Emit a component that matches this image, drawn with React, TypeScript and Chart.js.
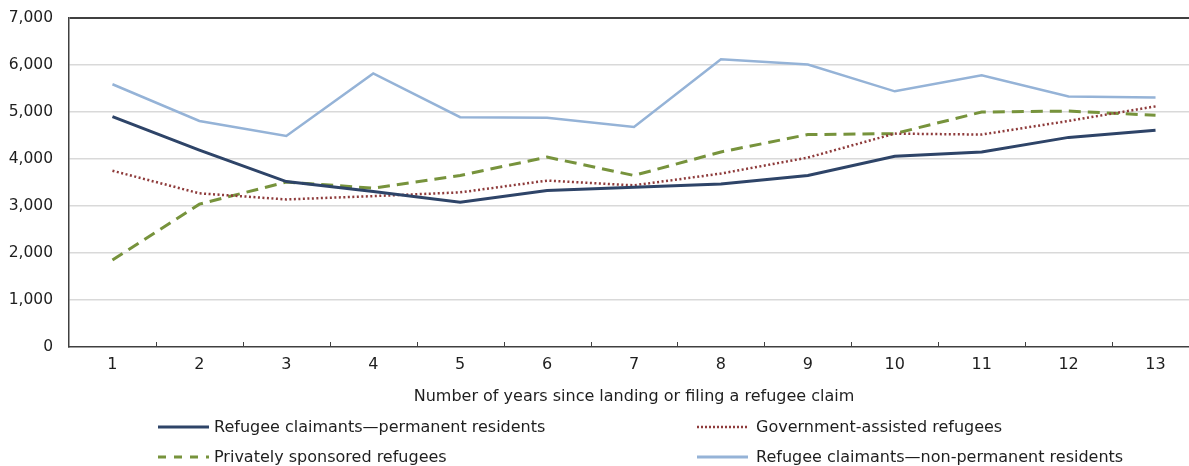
import React, { useEffect, useRef } from "react";
import { Chart, registerables } from "chart.js";

Chart.register(...registerables);

// Years since landing or filing a refugee claim
const years = ["1", "2", "3", "4", "5", "6", "7", "8", "9", "10", "11", "12", "13"];

// Median employment income by group
const claimantsPermanent = [4900, 4190, 3520, 3310, 3080, 3330, 3400, 3470, 3650, 4060, 4150, 4460, 4610];
const governmentAssisted = [3750, 3270, 3140, 3210, 3290, 3540, 3440, 3690, 4030, 4540, 4520, 4810, 5120];
const privatelySponsored = [1850, 3040, 3510, 3380, 3650, 4040, 3650, 4150, 4520, 4540, 5000, 5020, 4930];
const claimantsNonPermanent = [5590, 4810, 4490, 5820, 4890, 4880, 4680, 6120, 6010, 5440, 5780, 5330, 5310];

const seriesLabels = [
  "Refugee claimants\u2014permanent residents",
  "Government-assisted refugees",
  "Privately sponsored refugees",
  "Refugee claimants\u2014non-permanent residents",
];

const axisTitle = "Number of years since landing or filing a refugee claim";

const FONT = "'DejaVu Sans', Verdana, sans-serif";
const TEXT = "#1e1e1e";
const FRAME = "#404040";

const NAVY = "#2E4468";
const BROWN = "#8E3B3B";
const GREEN = "#77933C";
const LIGHT = "#95B3D7";

type LegendItem = { label: string; color: string; width: number; dash: number[] };

const legendItems: LegendItem[] = [
  { label: seriesLabels[0], color: NAVY, width: 3, dash: [] },
  { label: seriesLabels[1], color: BROWN, width: 2.5, dash: [2, 2] },
  { label: seriesLabels[2], color: GREEN, width: 3, dash: [8, 8] },
  { label: seriesLabels[3], color: LIGHT, width: 3, dash: [] },
];

// Two-column legend under the axis title, plus inward tick marks between categories
const extrasPlugin = {
  id: "extras",
  afterDraw(chart: any) {
    const { ctx, chartArea } = chart;
    const x = chart.scales.x;
    ctx.save();
    // category separators on the bottom axis
    ctx.strokeStyle = FRAME;
    ctx.lineWidth = 1;
    const n = years.length;
    for (let i = 0; i < n - 1; i++) {
      const px = Math.round((x.getPixelForValue(i) + x.getPixelForValue(i + 1)) / 2) + 0.5;
      ctx.beginPath();
      ctx.moveTo(px, chartArea.bottom);
      ctx.lineTo(px, chartArea.bottom - 5);
      ctx.stroke();
    }

    // legend
    const cols = [
      { lineX: 158, textX: 214 },
      { lineX: 697, textX: 756 },
    ];
    const rows = [427, 457];
    ctx.font = `16px ${FONT}`;
    ctx.textBaseline = "middle";
    ctx.textAlign = "left";
    legendItems.forEach((item, idx) => {
      const col = cols[idx % 2];
      const y = rows[Math.floor(idx / 2)];
      ctx.strokeStyle = item.color;
      ctx.lineWidth = item.width;
      ctx.setLineDash(item.dash);
      ctx.beginPath();
      ctx.moveTo(col.lineX, y);
      ctx.lineTo(col.lineX + 51, y);
      ctx.stroke();
      ctx.setLineDash([]);
      ctx.fillStyle = TEXT;
      ctx.fillText(item.label, col.textX, y + 1);
    });
    ctx.restore();
  },
};

export default function App() {
  const canvasRef = useRef<HTMLCanvasElement | null>(null);

  useEffect(() => {
    const canvas = canvasRef.current;
    if (!canvas) return;
    const chart = new Chart(canvas, {
      type: "line",
      data: {
        labels: years,
        datasets: [
          {
            label: seriesLabels[0],
            data: claimantsPermanent,
            borderColor: NAVY,
            borderWidth: 3,
            pointRadius: 0,
            tension: 0,
          },
          {
            label: seriesLabels[1],
            data: governmentAssisted,
            borderColor: BROWN,
            borderWidth: 2.5,
            borderDash: [2, 2.5],
            pointRadius: 0,
            tension: 0,
          },
          {
            label: seriesLabels[2],
            data: privatelySponsored,
            borderColor: GREEN,
            borderWidth: 3,
            borderDash: [12, 7],
            pointRadius: 0,
            tension: 0,
          },
          {
            label: seriesLabels[3],
            data: claimantsNonPermanent,
            borderColor: LIGHT,
            borderWidth: 2.5,
            pointRadius: 0,
            tension: 0,
          },
        ],
      },
      options: {
        responsive: false,
        animation: false,
        devicePixelRatio: 1,
        layout: { padding: { top: 18, right: 11, bottom: 60, left: 0 } },
        plugins: {
          legend: { display: false },
          tooltip: { enabled: false },
        },
        scales: {
          x: {
            offset: true,
            grid: { display: false, drawTicks: false, offset: true },
            border: { display: true, color: FRAME, width: 1.5 },
            ticks: {
              color: TEXT,
              font: { family: FONT, size: 16 },
              padding: 8,
              maxRotation: 0,
              autoSkip: false,
            },
            title: {
              display: true,
              text: axisTitle,
              color: TEXT,
              font: { family: FONT, size: 16 },
              padding: { top: 14, bottom: 0 },
            },
            afterFit: (scale: any) => {
              scale.height = 59;
            },
          },
          y: {
            min: 0,
            max: 7000,
            ticks: {
              stepSize: 1000,
              color: TEXT,
              font: { family: FONT, size: 15.5 },
              padding: 0,
              callback: (v: any) => Number(v).toLocaleString("en-US"),
            },
            grid: {
              drawTicks: true,
              tickLength: 16,
              tickColor: "rgba(0,0,0,0)",
              color: (c: any) => (c.tick && c.tick.value === 7000 ? FRAME : c.tick && c.tick.value === 0 ? "rgba(0,0,0,0)" : "#D9D9D9"),
              lineWidth: (c: any) => (c.tick && c.tick.value === 7000 ? 2 : 1.5),
            },
            border: { display: true, color: FRAME, width: 1.5 },
            afterFit: (scale: any) => {
              scale.width = 69;
            },
          },
        },
      },
      plugins: [extrasPlugin],
    });
    return () => chart.destroy();
  }, []);

  return (
    <div
      style={{
        position: "fixed",
        left: 0,
        top: 0,
        width: 1189,
        height: 466,
        overflow: "hidden",
        background: "#ffffff",
      }}
    >
      <canvas ref={canvasRef} width={1210} height={466} style={{ width: 1210, height: 466, display: "block" }} />
    </div>
  );
}
